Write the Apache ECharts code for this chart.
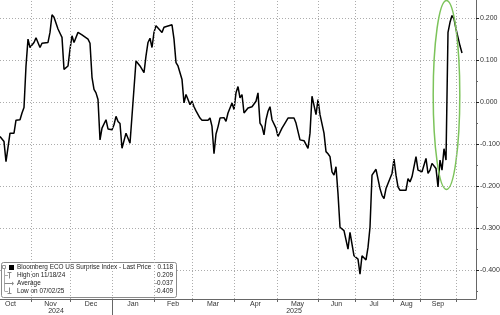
<!DOCTYPE html>
<html><head><meta charset="utf-8">
<script src="https://cdn.jsdelivr.net/npm/echarts@6/dist/echarts.min.js"></script>
<style>html,body{margin:0;padding:0;background:#fff}#c{width:500px;height:315px}</style>
</head><body><div id="c"></div>
<script>
// x = trading-day index since start of chart window, y = index level
const days = [0,2,3,4,5,6,7,8,9,10,11,12,13,14,15,17,18,19,20,21,24,25,26,27,28,29,30,31,32,33,34,35,36,37,38,39,41,42,44,45,46,47,48,49,50,
51,52,53,54,56,57,58,59,60,61,62,63,64,65,66,68,69,70,72,73,74,75,76,77,78,79,81,82,83,86,87,88,89,90,91,92,93,94,95,96,97,98,100,
101,104,105,106,107,108,109,110,112,113,114,116,117,118,119,120,121,122,123,124,126,128,129,130,131,132,133,134,135,136,137,138,139,140,
141,142,144,147,148,150,152,154,155,156,157,158,159,160,162,163,164,165,166,167,168,169,170,172,173,174,175,176,177,178,179,180,
181,182,183,184,185,186,188,189,190,191,192,193,194,195,196,197,198,199,200,201,203,204,205,206,208,209,210,211,212,213,214,215,216,
218,219,220,221,222,223,224,225,226,227,228,229,230,231];
const values = [-0.081,-0.093,-0.141,-0.141,-0.073,-0.069,-0.073,-0.042,-0.045,-0.041,-0.025,-0.012,0.087,0.151,0.131,0.143,0.154,0.153,0.131,0.141,0.143,0.167,0.209,0.203,0.203,0.175,0.165,0.155,0.079,0.083,0.087,0.127,0.159,0.143,0.147,0.167,0.161,0.159,0.151,0.141,0.060,0.031,0.023,0.007,-0.089,
-0.061,-0.065,-0.041,-0.063,-0.065,-0.053,-0.033,-0.045,-0.050,-0.109,-0.109,-0.073,-0.071,-0.097,-0.097,0.099,0.099,0.087,0.071,0.111,0.143,0.153,0.131,0.167,0.183,0.183,0.167,0.179,0.182,0.185,0.151,0.095,0.087,0.071,0.055,-0.001,0.019,0.007,-0.005,0.003,-0.010,-0.020,-0.037,
-0.042,-0.042,-0.037,-0.057,-0.122,-0.075,-0.058,-0.037,-0.036,-0.045,-0.025,-0.001,-0.017,0.023,0.038,0.011,0.019,-0.025,-0.027,-0.013,-0.010,0.003,0.023,-0.049,-0.057,-0.077,-0.041,-0.021,-0.010,-0.041,-0.039,-0.061,-0.081,-0.077,
-0.061,-0.053,-0.037,-0.037,-0.049,-0.089,-0.091,-0.109,-0.073,0.015,0.011,-0.029,0.007,-0.029,-0.073,-0.117,-0.122,-0.129,-0.165,-0.173,-0.153,-0.217,-0.297,-0.305,-0.301,-0.349,-0.309,-0.337,-0.365,-0.369,-0.373,-0.409,
-0.365,-0.369,-0.375,-0.345,-0.297,-0.173,-0.159,-0.157,-0.205,-0.221,-0.229,-0.205,-0.193,-0.197,-0.169,-0.135,-0.173,-0.201,-0.209,-0.213,-0.209,-0.181,-0.189,-0.177,-0.129,-0.161,-0.157,-0.165,-0.161,-0.133,-0.169,-0.161,-0.145,
-0.157,-0.201,-0.137,-0.161,-0.110,-0.137,0.167,0.191,0.207,0.199,0.175,0.155,0.135,0.118];

const monthNames = ['Oct','Nov','Dec','Jan','Feb','Mar','Apr','May','Jun','Jul','Aug','Sep'];
const monthStarts = [-5,15.5,35,56,77,96,117,138.5,159,177.5,196.5,210,228];
const yearNames = ['2024','2025'];
const yearStarts = [0,56];
const yearEnds = [56,238];
const yTickLabels = [-0.4,-0.3,-0.2,-0.1,0,0.1,0.2];
const yMinorTicks = [-0.45,-0.35,-0.25,-0.15,-0.05,0.05,0.15];
const lastPrice = 0.118;
const legendLabels = ['Bloomberg ECO US Surprise Index - Last Price','High on 11/18/24','Average','Low on 07/02/25'];
const legendValues = ['0.118','0.209','-0.037','-0.409'];
const highlight = [[216.6, 229.9, -0.207, 0.243]];

const X_MIN = 0, X_MAX = 238, Y_MIN = -0.4679, Y_MAX = 0.2441;
const monthCenters = monthNames.map((m,i)=>(monthStarts[i]+monthStarts[i+1])/2);
const yearCenters = yearNames.map((y,i)=>(yearStarts[i]+yearEnds[i])/2);
const innerMonthStarts = monthStarts.filter(v=>v>X_MIN&&v<X_MAX);
const font = 'Liberation Sans';
const gridCol = '#acacac';
const axisCol = '#666';

const chart = echarts.init(document.getElementById('c'), null, {renderer:'canvas'});

const rowsY = [267.3, 275.2, 283.1, 291];
const legendEls = [
  {type:'rect', shape:{x:1.5,y:262.5,width:175,height:35,r:2}, style:{fill:'#fff',stroke:'#8a8a8a',lineWidth:1}},
  {type:'line', shape:{x1:4.5,y1:268,x2:4.5,y2:291}, style:{stroke:'#aaa',lineWidth:1}},
  {type:'rect', shape:{x:2.5,y:265.5,width:3,height:3}, style:{fill:'#fff',stroke:'#999',lineWidth:1}},
  {type:'rect', shape:{x:9,y:265,width:5,height:5}, style:{fill:'#000'}},
  {type:'line', shape:{x1:4.5,y1:275.5,x2:8,y2:275.5}, style:{stroke:'#aaa',lineWidth:1}},
  {type:'line', shape:{x1:9.5,y1:272.5,x2:9.5,y2:278.5}, style:{stroke:'#888',lineWidth:1}},
  {type:'line', shape:{x1:7.5,y1:272.5,x2:11.5,y2:272.5}, style:{stroke:'#888',lineWidth:1}},
  {type:'line', shape:{x1:4.5,y1:283.5,x2:12,y2:283.5}, style:{stroke:'#888',lineWidth:1}},
  {type:'polygon', shape:{points:[[12,281.5],[14,283.5],[12,285.5]]}, style:{fill:'#888'}},
  {type:'line', shape:{x1:4.5,y1:291.5,x2:8,y2:291.5}, style:{stroke:'#aaa',lineWidth:1}},
  {type:'line', shape:{x1:9.5,y1:287.5,x2:9.5,y2:293.5}, style:{stroke:'#888',lineWidth:1}},
  {type:'line', shape:{x1:7.5,y1:293.5,x2:11.5,y2:293.5}, style:{stroke:'#888',lineWidth:1}}
];
legendLabels.forEach((t,i)=>{
  legendEls.push({type:'text', x:17, y:rowsY[i], style:{text:t, font:'6.4px '+font, fill:'#222', textAlign:'left', textVerticalAlign:'middle', align:'left', verticalAlign:'middle'}});
  legendEls.push({type:'text', x:173, y:rowsY[i], style:{text:legendValues[i], font:'6.4px '+font, fill:'#222', textAlign:'right', textVerticalAlign:'middle', align:'right', verticalAlign:'middle'}});
});

function nearestName(v, centers, names){let k=0,b=1e9;centers.forEach((c,i)=>{if(Math.abs(c-v)<b){b=Math.abs(c-v);k=i;}});return names[k];}

const gridLineStyle = {color:gridCol, width:1, type:[1,2]};
const vGridMarks = innerMonthStarts.map(v=>({xAxis:v, lineStyle:gridLineStyle}));

chart.setOption({
  animation:false,
  backgroundColor:'#fff',
  grid:{left:0, right:24, top:0, bottom:16, outerBoundsMode:'none', containLabel:false},
  xAxis:[{
    type:'value', min:X_MIN, max:X_MAX, position:'bottom',
    axisLine:{show:true, onZero:false, lineStyle:{color:axisCol,width:1}},
    axisTick:{show:true, length:3, customValues:innerMonthStarts, lineStyle:{color:axisCol}},
    splitLine:{show:false},
    axisLabel:{show:true, customValues:monthCenters, margin:2, fontSize:7, fontFamily:font, color:'#333', hideOverlap:false,
      formatter:(v)=>nearestName(v, monthCenters, monthNames)}
  },{
    type:'value', min:X_MIN, max:X_MAX, position:'bottom', offset:0,
    axisLine:{show:false, onZero:false},
    axisTick:{show:true, length:16, customValues:[yearStarts[1]], lineStyle:{color:axisCol}},
    splitLine:{show:false},
    axisLabel:{show:true, customValues:yearCenters, margin:9, fontSize:7, fontFamily:font, color:'#333', hideOverlap:false,
      formatter:(v)=>nearestName(v, yearCenters, yearNames)}
  }],
  yAxis:[{
    type:'value', min:Y_MIN, max:Y_MAX, position:'right',
    axisLine:{show:true, onZero:false, lineStyle:{color:axisCol,width:1}},
    axisTick:{show:true, length:3, customValues:yTickLabels.slice(), lineStyle:{color:'#222',width:1}},
    splitLine:{show:false},
    axisLabel:{show:true, customValues:yTickLabels.slice(), margin:4, fontSize:7, fontFamily:font, color:'#333', hideOverlap:false,
      formatter:(v)=>v.toFixed(3)}
  },{
    type:'value', min:Y_MIN, max:Y_MAX, position:'right', offset:0,
    axisLine:{show:false, onZero:false},
    axisTick:{show:true, length:2, customValues:yMinorTicks, lineStyle:{color:axisCol}},
    splitLine:{show:false},
    axisLabel:{show:false}
  }],
  series:[{
    // carrier for the dotted month grid lines
    type:'line', xAxisIndex:0, yAxisIndex:0, z:1, silent:true,
    data:[[days[0], values[0]]], showSymbol:false, symbol:'none', lineStyle:{opacity:0},
    markLine:{silent:true, symbol:['none','none'], label:{show:false}, emphasis:{disabled:true},
      lineStyle:gridLineStyle, data:vGridMarks}
  },{
    type:'line', xAxisIndex:0, yAxisIndex:0,
    data: days.map((d,i)=>[d, values[i]]),
    showSymbol:false, symbol:'none',
    lineStyle:{color:'#000', width:1.5},
    z:3,
    markLine:{
      silent:true, symbol:['none','none'],
      lineStyle:{opacity:0},
      label:{show:true, position:'end', distance:1, formatter:()=>lastPrice.toFixed(3),
        backgroundColor:'#000', color:'#fff', fontSize:7, fontFamily:font, padding:[2,3,2,3], borderRadius:2},
      data:[{yAxis:lastPrice}]
    }
  },{
    type:'custom', xAxisIndex:0, yAxisIndex:0, z:4, silent:true,
    data: highlight,
    renderItem:(params, api)=>{
      const p0 = api.coord([api.value(0), api.value(3)]);
      const p1 = api.coord([api.value(1), api.value(2)]);
      return {type:'ellipse', shape:{cx:(p0[0]+p1[0])/2, cy:(p0[1]+p1[1])/2, rx:Math.abs(p1[0]-p0[0])/2, ry:Math.abs(p1[1]-p0[1])/2},
        style:{fill:'none', stroke:'#7cc35a', lineWidth:1.5}};
    }
  }]
});

// dotted horizontal level lines: positions taken from the chart's own y scale
const xa = chart.convertToPixel({xAxisIndex:0}, X_MIN);
const xb = chart.convertToPixel({xAxisIndex:0}, X_MAX);
const dots = [];
yTickLabels.forEach(v=>{
  const y = Math.floor(chart.convertToPixel({yAxisIndex:0}, v));
  for (let x = Math.floor(xa); x < xb; x += 3) {
    dots.push({type:'rect', silent:true, shape:{x:x, y:y, width:1, height:1}, style:{fill:gridCol}});
  }
});

chart.setOption({
  graphic:{elements:[
    {type:'group', id:'hgrid', z:10, silent:true, children:dots},
    {type:'group', id:'legend', z:100, children:legendEls}
  ]}
});
</script>
</body></html>
